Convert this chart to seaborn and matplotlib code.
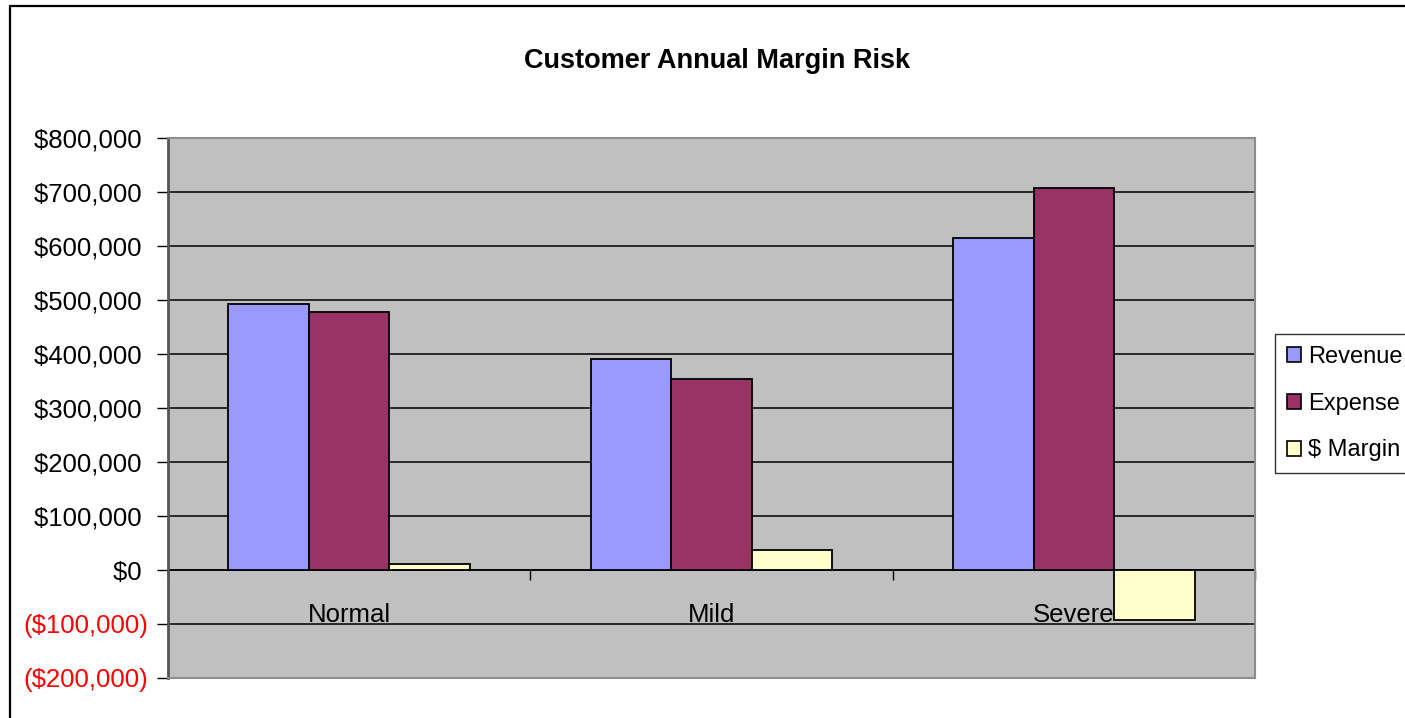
import matplotlib
matplotlib.use("Agg")
import matplotlib.pyplot as plt
from matplotlib.lines import Line2D
from matplotlib.patches import Patch
from matplotlib.ticker import FuncFormatter, FixedLocator
import seaborn as sns
import pandas as pd

# Scenario categories and the three series per scenario
categories = ["Normal", "Mild", "Severe"]
series_names = ["Revenue", "Expense", "$ Margin"]
revenue = [492600, 391300, 614200]
expense = [477200, 354300, 706800]
margin = [11000, 37000, -92600]
ytick_values = [-200000, -100000, 0, 100000, 200000, 300000, 400000,
                500000, 600000, 700000, 800000]

colors = {"Revenue": "#9999FF", "Expense": "#993366", "$ Margin": "#FFFFCC"}

rows = []
for name, vals in zip(series_names, [revenue, expense, margin]):
    for cat, v in zip(categories, vals):
        rows.append({"Scenario": cat, "Series": name, "Amount": v})
df = pd.DataFrame(rows)

sns.set_theme(style="white")
plt.rcParams["font.family"] = ["Liberation Sans", "DejaVu Sans"]
plt.rcParams["axes.axisbelow"] = True
for key in ["text.color", "axes.labelcolor", "xtick.color", "ytick.color"]:
    plt.rcParams[key] = "black"
fs_tick, fs_title, fs_legend = 18.5, 19.5, 17

W, H = 1405, 718
fig = plt.figure(figsize=(W / 100, H / 100), dpi=100)
fig.patch.set_facecolor("white")

px_l, px_r, px_t, px_b = 168, 1255, 138, 678
ax = fig.add_axes([px_l / W, 1 - px_b / H, (px_r - px_l) / W, (px_b - px_t) / H])
ax.set_facecolor("#C0C0C0")

sns.barplot(data=df, x="Scenario", y="Amount", hue="Series", order=categories,
            hue_order=series_names, palette=colors, width=2 / 3, gap=0,
            edgecolor="black", linewidth=1.3, saturation=1, ax=ax, legend=False)
for p in ax.patches:
    p.set_zorder(2)

ax.set_xlim(-0.5, 2.5)
ax.set_ylim(-200000, 800000)
ax.yaxis.set_major_locator(FixedLocator(ytick_values))


def money(v, pos=None):
    # accounting style: negatives in parentheses, positives padded on the right
    if v < 0:
        return "(${:,.0f})".format(-v)
    return "${:,.0f} ".format(v)


ax.yaxis.set_major_formatter(FuncFormatter(money))
ax.grid(axis="y", color="black", linewidth=1.1)
ax.grid(axis="x", visible=False)
ax.tick_params(axis="y", direction="out", length=8, width=1, color="black",
               pad=6, labelsize=fs_tick, left=True)
for lbl, v in zip(ax.get_yticklabels(), ytick_values):
    lbl.set_color("red" if v < 0 else "black")

ax.set_xticks([])
ax.set_xlabel("")
ax.set_ylabel("")

for side in ["top", "right", "bottom"]:
    ax.spines[side].set_color("#8C8C8C")
    ax.spines[side].set_linewidth(1.5)
    ax.spines[side].set_visible(True)
ax.spines["left"].set_color("#555555")
ax.spines["left"].set_linewidth(2)
ax.spines["left"].set_visible(True)

# Category axis sits on the zero line with ticks between groups
sec = ax.secondary_xaxis(0.2)
sec.set_xticks([-0.5, 0.5, 1.5, 2.5])
sec.set_xticklabels([])
sec.tick_params(axis="x", direction="out", length=7, width=1, color="black")
sec.spines["bottom"].set_color("black")
sec.spines["bottom"].set_linewidth(1.1)

for i, cat in enumerate(categories):
    ax.annotate(cat, xy=(i, 0), xytext=(0, -33), textcoords="offset pixels",
                ha="center", va="top", fontsize=fs_tick, color="black",
                zorder=1, annotation_clip=False)

fig.text(717 / W, 1 - 61 / H, "Customer Annual Margin Risk", ha="center",
         va="center", fontsize=fs_title, fontweight="bold", color="black")

handles = [Patch(facecolor=colors[n], edgecolor="black", linewidth=1.2)
           for n in series_names]
leg = fig.legend(handles, series_names, loc="upper left",
                 bbox_to_anchor=(1275 / W, 1 - 334 / H), borderaxespad=0,
                 fontsize=fs_legend, frameon=True, fancybox=False,
                 handlelength=0.6, handleheight=0.6, handletextpad=0.3,
                 labelspacing=1.05, borderpad=0.5)
leg.get_frame().set_edgecolor("black")
leg.get_frame().set_linewidth(1)
leg.get_frame().set_facecolor("white")
for t in leg.get_texts():
    t.set_color("black")

# Chart frame (top and left edges)
fig.add_artist(Line2D([10 / W, 1.01], [1 - 6 / H, 1 - 6 / H], color="black",
                      linewidth=1.6, transform=fig.transFigure))
fig.add_artist(Line2D([10 / W, 10 / W], [1 - 6 / H, -0.01], color="black",
                      linewidth=1.6, transform=fig.transFigure))

fig.savefig("out.png", dpi=100)
